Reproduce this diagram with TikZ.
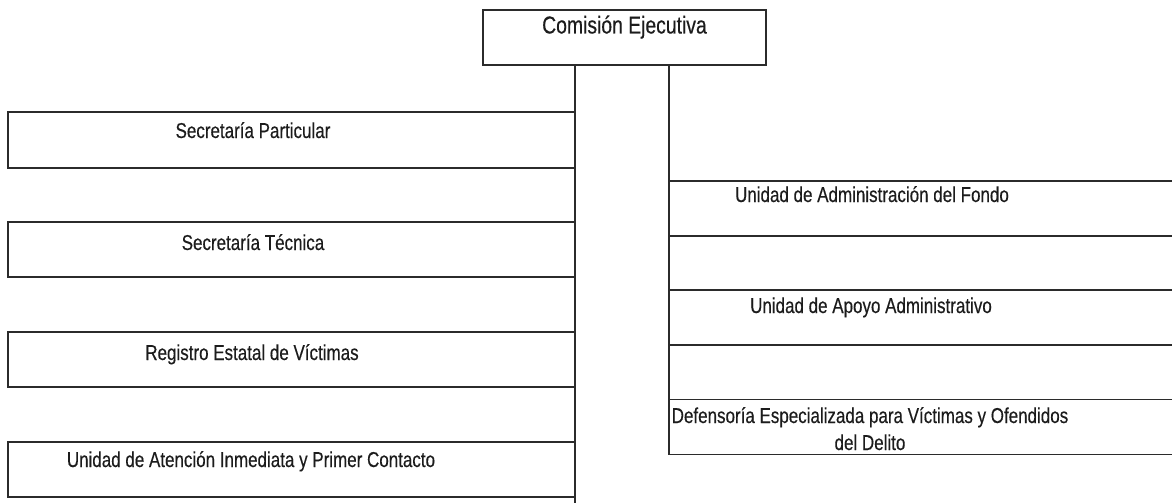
\documentclass[tikz,border=0pt]{standalone}
\usepackage{fontspec}
\setmainfont[FakeStretch=0.79,FakeBold=0.3]{Liberation Sans}
\definecolor{linec}{HTML}{2B2B2B}
\definecolor{textc}{HTML}{1C1C1C}
\begin{document}
\begin{tikzpicture}[x=1pt,y=-1pt,
  box/.style={draw=linec, line width=1.3pt, rectangle, inner sep=0pt, outer sep=0pt},
  lbl/.style={font=\fontsize{21.5}{27}\selectfont, text=textc, inner sep=0pt, anchor=base, align=center},
  headlbl/.style={lbl, font=\fontsize{24.5}{29}\selectfont},
  bus/.style={draw=linec, line width=1.3pt}]
\useasboundingbox (0,0) rectangle (1172,503);
\fill[white] (0,0) rectangle (1172,503);
\clip (0,0) rectangle (1172,503);
% head
\node[box, minimum width=283pt, minimum height=55pt] (ce) at (624.5,37.5) {};
\node[headlbl] (tce) at (624.5,33.5) {Comisión Ejecutiva};
% left boxes
\node[box, minimum width=567pt, minimum height=56pt] (l1) at (291.5,140) {};
\node[box, minimum width=567pt, minimum height=55pt] (l2) at (291.5,249.5) {};
\node[box, minimum width=567pt, minimum height=55pt] (l3) at (291.5,359.5) {};
\node[box, minimum width=567pt, minimum height=55pt] (l4) at (291.5,469.5) {};
\node[lbl] (tl1) at (253,138) {Secretaría Particular};
\node[lbl] (tl2) at (253,250) {Secretaría Técnica};
\node[lbl] (tl3) at (252,360) {Registro Estatal de Víctimas};
\node[lbl] (tl4) at (251,467) {Unidad de Atención Inmediata y Primer Contacto};
% right boxes
\node[box, minimum width=531pt, minimum height=55pt] (r1) at (934.5,208.5) {};
\node[box, minimum width=531pt, minimum height=55pt] (r2) at (934.5,317.5) {};
\node[box, minimum width=531pt, minimum height=55pt] (r3) at (934.5,427) {};
\node[lbl] (tr1) at (872,202) {Unidad de Administración del Fondo};
\node[lbl] (tr2) at (871,313) {Unidad de Apoyo Administrativo};
\node[lbl] (tr3) at (870,450) {Defensoría Especializada para Víctimas y Ofendidos\\del Delito};
% connectors
\coordinate (lend) at (575,503);
\draw[bus] (ce.south -| lend) -- (lend);
\draw[bus] (ce.south -| r3.west) -- (r3.south west);
\end{tikzpicture}
\end{document}
